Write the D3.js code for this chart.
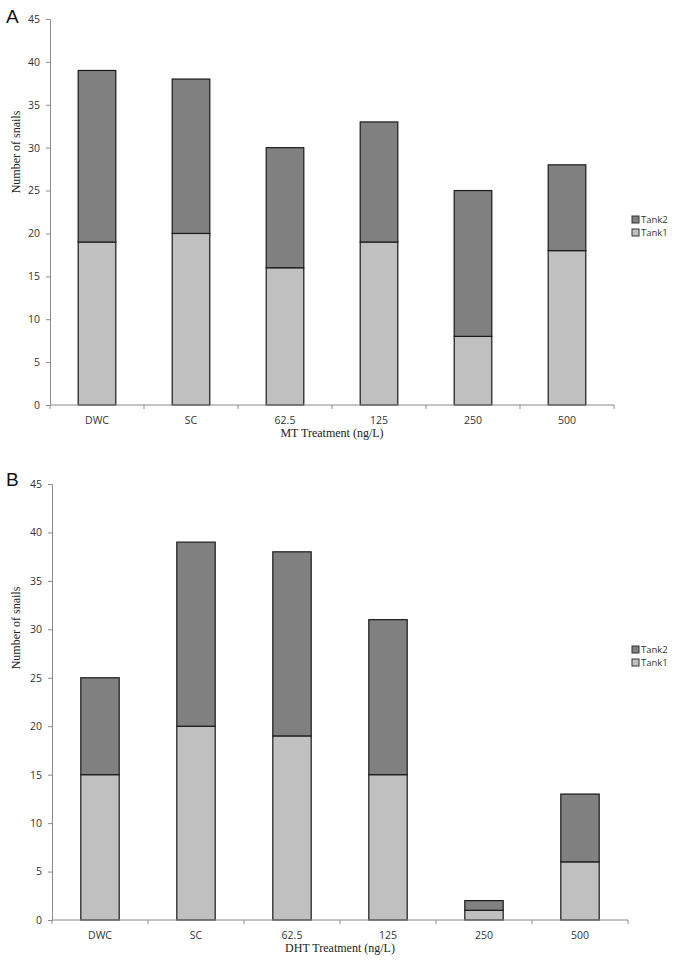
<!DOCTYPE html>
<html><head><meta charset="utf-8">
<script src="https://cdn.jsdelivr.net/npm/d3@7"></script>
<style>body{margin:0;background:#fff}svg{display:block}</style>
</head><body>
<script>
const categories = ["DWC", "SC", "62.5", "125", "250", "500"];
const seriesNames = ["Tank1", "Tank2"];
const mtTank1 = [19, 20, 16, 19, 8, 18];
const mtTank2 = [20, 18, 14, 14, 17, 10];
const dhtTank1 = [15, 20, 19, 15, 1, 6];
const dhtTank2 = [10, 19, 19, 16, 1, 7];
const yTicks = [0, 5, 10, 15, 20, 25, 30, 35, 40, 45];

const colors = {Tank1: "#c0c0c0", Tank2: "#808080"};
const svg = d3.select("body").append("svg").attr("width", 684).attr("height", 960);

function panel(cfg) {
  const g = svg.append("g");
  const x = d3.scaleBand().domain(categories).range([cfg.x0, cfg.x1]).paddingInner(0.6).paddingOuter(0.3);
  const xs = d3.scaleBand().domain(categories).range([cfg.x0, cfg.x1]);
  const y = d3.scaleLinear().domain([0, 45]).range([cfg.yb, cfg.yt]);
  const rows = categories.map((c, i) => ({cat: c, Tank1: cfg.t1[i], Tank2: cfg.t2[i]}));
  const stacked = d3.stack().keys(seriesNames)(rows);

  stacked.forEach(s => {
    g.selectAll(null).data(s).enter().append("rect")
      .attr("x", d => x(d.data.cat))
      .attr("width", x.bandwidth())
      .attr("y", d => y(d[1]))
      .attr("height", d => y(d[0]) - y(d[1]))
      .attr("fill", colors[s.key])
      .attr("stroke", "#1a1a1a").attr("stroke-width", 1.2);
  });

  const ya = g.append("g").attr("transform", `translate(${cfg.x0},0)`)
    .call(d3.axisLeft(y).tickValues(yTicks).tickSize(4).tickPadding(6));
  ya.selectAll("path,line").attr("stroke", "#8a8a8a");
  ya.selectAll("text").attr("font-family", "Open Sans, sans-serif").attr("font-size", 10.5).attr("fill", "#333");

  const xa = g.append("g").attr("transform", `translate(0,${cfg.yb})`);
  xa.append("line").attr("x1", cfg.x0).attr("x2", cfg.x1).attr("stroke", "#8a8a8a");
  const bounds = categories.map(c => xs(c)).concat([cfg.x1]);
  xa.selectAll(null).data(bounds).enter().append("line")
    .attr("x1", d => d).attr("x2", d => d).attr("y1", 0).attr("y2", 4).attr("stroke", "#8a8a8a");
  xa.selectAll(null).data(categories).enter().append("text")
    .attr("x", d => xs(d) + xs.bandwidth() / 2).attr("y", 19)
    .attr("text-anchor", "middle").attr("font-family", "Open Sans, sans-serif")
    .attr("font-size", 10.5).attr("fill", "#333").text(d => d);

  g.append("text").attr("x", (cfg.x0 + cfg.x1) / 2).attr("y", cfg.yb + 32)
    .attr("text-anchor", "middle").attr("font-family", "Liberation Serif, serif")
    .attr("font-size", 12).attr("fill", "#222").text(cfg.xTitle);
  g.append("text").attr("transform", `translate(${cfg.ytx},${cfg.yty}) rotate(-90)`)
    .attr("text-anchor", "middle").attr("font-family", "Liberation Serif, serif")
    .attr("font-size", 12).attr("fill", "#222").text("Number of snails");

  g.append("text").attr("x", 6).attr("y", cfg.letterY).attr("font-family", "Liberation Sans, Arial, sans-serif")
    .attr("font-size", 19).attr("fill", "#111").text(cfg.letter);

  const leg = g.append("g").attr("transform", `translate(632,${cfg.legY})`);
  ["Tank2", "Tank1"].forEach((k, i) => {
    leg.append("rect").attr("x", 0).attr("y", i * 13 - 4).attr("width", 7).attr("height", 7)
      .attr("fill", colors[k]).attr("stroke", "#333").attr("stroke-width", 1);
    leg.append("text").attr("x", 9).attr("y", i * 13 + 3).attr("font-family", "Open Sans, sans-serif")
      .attr("font-size", 9.5).attr("fill", "#333").text(k);
  });
}

panel({x0: 50, x1: 614, yb: 405, yt: 19, t1: mtTank1, t2: mtTank2, xTitle: "MT Treatment (ng/L)",
       ytx: 20, yty: 152, letter: "A", letterY: 23, legY: 220});
panel({x0: 52, x1: 628, yb: 920, yt: 484, t1: dhtTank1, t2: dhtTank2, xTitle: "DHT Treatment (ng/L)",
       ytx: 20, yty: 628, letter: "B", letterY: 486, legY: 650});
</script>
</body></html>
